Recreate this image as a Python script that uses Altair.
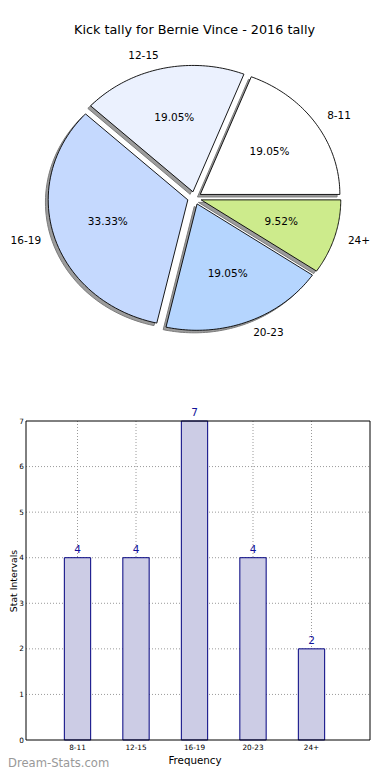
import altair as alt
import pandas as pd

# ---------------- data ----------------
categories = ["8-11", "12-15", "16-19", "20-23", "24+"]
counts = [4, 4, 7, 4, 2]
wedge_colors = ["#ffffff", "#ebf1fe", "#c5d9fe", "#b5d5fe", "#cdeb8c"]
explode = [0.05, 0.05, 0.05, 0.05, 0.05]
y_ticks = [0, 1, 2, 3, 4, 5, 6, 7]
title_text = "Kick tally for Bernie Vince - 2016 tally"
x_title = "Frequency"
y_title = "Stat Intervals"
watermark_text = "Dream-Stats.com"

pie_df = pd.DataFrame({"idx": list(range(len(categories))), "cat": categories,
                       "count": counts, "explode": explode})
bar_df = pd.DataFrame({"cat": categories, "count": counts})
tick_df = pd.DataFrame({"v": y_ticks})

FONT = "DejaVu Sans"

# ---------------- pie (top) ----------------
px_scale = alt.Scale(domain=[-1.25, 1.25], range=[12, 361], nice=False, zero=False)
py_scale = alt.Scale(domain=[-1.25, 1.25], range=[348, 32], nice=False, zero=False)

slices = (
    alt.Chart(pie_df)
    .transform_joinaggregate(total="sum(count)")
    .transform_window(cum="sum(count)", sort=[alt.SortField("idx")], frame=[None, 0])
    .transform_calculate(
        a0="2*PI*(datum.cum - datum.count)/datum.total",
        a1="2*PI*datum.cum/datum.total",
    )
    .transform_calculate(mid="(datum.a0 + datum.a1)/2")
    .transform_calculate(
        ox="datum.explode*cos(datum.mid)",
        oy="datum.explode*sin(datum.mid)",
    )
)

outline = (
    slices.transform_calculate(k="sequence(0, 61)")
    .transform_flatten(["k"])
    .transform_calculate(
        ang="datum.a0 + (datum.a1 - datum.a0)*(datum.k - 1)/59",
        ux="datum.k == 0 ? datum.ox : datum.ox + cos(datum.ang)",
        uy="datum.k == 0 ? datum.oy : datum.oy + sin(datum.ang)",
        sx="datum.ux - 0.02",
        sy="datum.uy - 0.02",
    )
)

shadow = outline.mark_line(
    interpolate="linear-closed", fill="#9c9c9c", stroke="#7c7c7c", strokeWidth=1
).encode(
    x=alt.X("sx:Q", scale=px_scale, axis=None),
    y=alt.Y("sy:Q", scale=py_scale, axis=None),
    detail="cat:N",
    order="k:Q",
)

wedges = outline.mark_line(
    interpolate="linear-closed", stroke="black", strokeWidth=0.9
).encode(
    x=alt.X("ux:Q", scale=px_scale, axis=None),
    y=alt.Y("uy:Q", scale=py_scale, axis=None),
    fill=alt.Fill("cat:N", scale=alt.Scale(domain=categories, range=wedge_colors), legend=None),
    detail="cat:N",
    order="k:Q",
)

pct = slices.transform_calculate(
    tx="datum.ox + 0.6*cos(datum.mid)",
    ty="datum.oy + 0.6*sin(datum.mid)",
    pct="format(100*datum.count/datum.total, '.2f') + '%'",
).mark_text(font=FONT, fontSize=10.5, color="black", baseline="middle").encode(
    x=alt.X("tx:Q", scale=px_scale, axis=None),
    y=alt.Y("ty:Q", scale=py_scale, axis=None),
    text="pct:N",
)

lab = slices.transform_calculate(
    tx="datum.ox + 1.1*cos(datum.mid)",
    ty="datum.oy + 1.1*sin(datum.mid)",
)
lab_r = lab.transform_filter("cos(datum.mid) >= 0").mark_text(
    font=FONT, fontSize=10.5, color="black", align="left", baseline="middle"
).encode(
    x=alt.X("tx:Q", scale=px_scale, axis=None),
    y=alt.Y("ty:Q", scale=py_scale, axis=None),
    text="cat:N",
)
lab_l = lab.transform_filter("cos(datum.mid) < 0").mark_text(
    font=FONT, fontSize=10.5, color="black", align="right", baseline="middle"
).encode(
    x=alt.X("tx:Q", scale=px_scale, axis=None),
    y=alt.Y("ty:Q", scale=py_scale, axis=None),
    text="cat:N",
)

pie = alt.layer(shadow, wedges, pct, lab_r, lab_l)

# ---------------- bars (bottom) ----------------
FRAME_L, FRAME_R = 18, 362
xband = alt.Scale(domain=categories, range=[11, 362], paddingInner=0.55, paddingOuter=0.775)
ybar = alt.Scale(domain=[0, 7], range=[732, 413], nice=False, zero=True)

x_axis = alt.Axis(
    orient="bottom", offset=-32, domain=False, ticks=False, tickSize=0, grid=False,
    labelFont=FONT, labelFontSize=7.3, labelPadding=3, labelColor="black", labelAngle=0,
    title=x_title, titleFont=FONT, titleFontSize=10.3, titleFontWeight="normal",
    titleColor="black", titleX=186.5, titleY=20, titleBaseline="middle", titleAlign="center",
)
y_axis = alt.Axis(
    orient="left", offset=-FRAME_L, domain=False, ticks=False, tickSize=0, grid=False,
    values=y_ticks, format="d",
    labelFont=FONT, labelFontSize=7.3, labelPadding=2.5, labelColor="black",
    title=y_title, titleFont=FONT, titleFontSize=9.3, titleFontWeight="normal",
    titleColor="black", titleAngle=270, titleX=8.8 - FRAME_L, titleY=572.5,
    titleAlign="center", titleBaseline="alphabetic",
)

grid_style = dict(color="#9a9a9a", strokeDash=[1, 2], strokeWidth=1)

ygrid = alt.Chart(tick_df).transform_filter("datum.v > 0 && datum.v < 7").mark_rule(**grid_style).encode(
    y=alt.Y("v:Q", scale=ybar, axis=y_axis),
    x=alt.value(FRAME_L),
    x2=alt.value(FRAME_R),
)
xgrid = alt.Chart(bar_df).mark_rule(**grid_style).encode(
    x=alt.X("cat:N", scale=xband, axis=x_axis, sort=categories),
    y=alt.datum(0),
    y2=alt.datum(7),
)
bars = alt.Chart(bar_df).mark_bar(fill="#ccccE5", stroke="#00007f", strokeWidth=1).encode(
    x=alt.X("cat:N", scale=xband, axis=x_axis, sort=categories),
    y=alt.Y("count:Q", scale=ybar, axis=y_axis),
)
vals = alt.Chart(bar_df).mark_text(
    font=FONT, fontSize=10.5, color="#12129a", dy=-5, baseline="alphabetic"
).encode(
    x=alt.X("cat:N", scale=xband, axis=x_axis, sort=categories),
    y=alt.Y("count:Q", scale=ybar, axis=y_axis),
    text="count:Q",
)
frame = alt.Chart(pd.DataFrame({"a": [0]})).mark_rect(
    filled=False, stroke="black", strokeWidth=1
).encode(
    x=alt.value(FRAME_L),
    x2=alt.value(FRAME_R),
    y=alt.datum(7),
    y2=alt.datum(0),
)

bar_layer = alt.layer(ygrid, xgrid, bars, vals, frame)

# ---------------- texts ----------------
title = alt.Chart(pd.DataFrame({"t": [title_text]})).mark_text(
    font=FONT, fontSize=12.8, color="black", baseline="middle"
).encode(text="t:N", x=alt.value(186.5), y=alt.value(22))

wm = alt.Chart(pd.DataFrame({"t": [watermark_text]})).mark_text(
    font=FONT, fontSize=11.6, color="#999999", align="left", baseline="alphabetic"
).encode(text="t:N", x=alt.value(0), y=alt.value(759))

chart = (
    alt.layer(pie, bar_layer, title, wm)
    .resolve_scale(x="independent", y="independent")
    .properties(width=374, height=764, autosize=alt.AutoSizeParams(type="none"), padding=0)
    .configure_view(stroke=None)
)

chart.save("out.html", embed_options={"renderer": "svg", "actions": False})
